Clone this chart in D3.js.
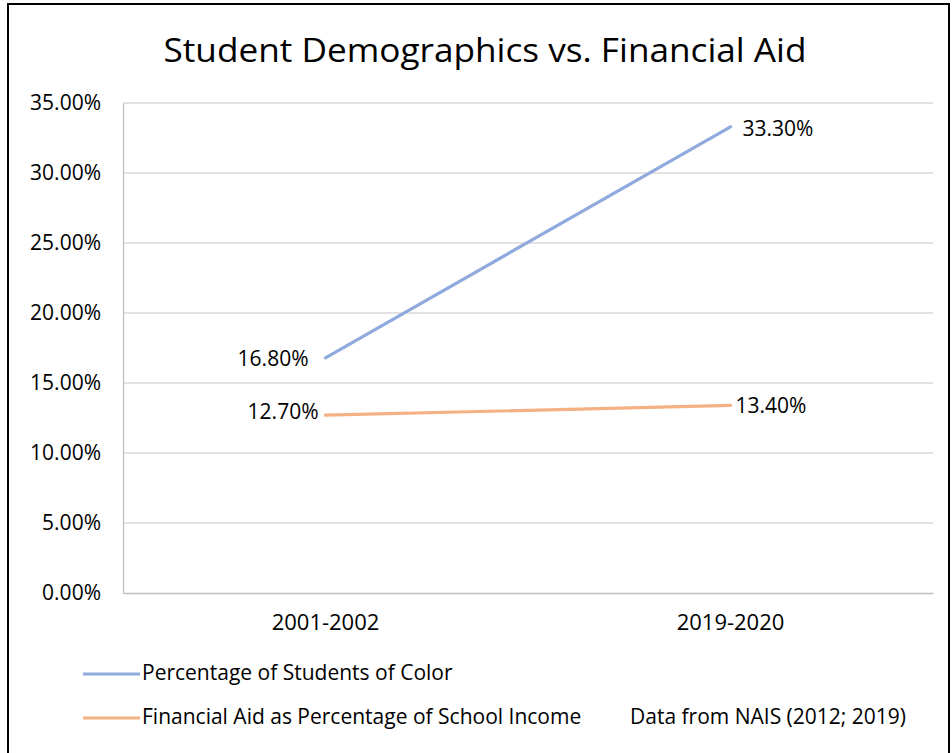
<!DOCTYPE html>
<html><head><meta charset="utf-8">
<script src="https://cdn.jsdelivr.net/npm/d3@7"></script>
<style>body{margin:0;background:#fff}svg{display:block}</style>
</head><body>
<script>
const categories = ["2001-2002", "2019-2020"];
const seriesNames = ["Percentage of Students of Color", "Financial Aid as Percentage of School Income"];
const studentsOfColor = [16.8, 33.3];
const financialAid = [12.7, 13.4];
const yTicks = [0, 5, 10, 15, 20, 25, 30, 35];
const titleText = "Student Demographics vs. Financial Aid";
const sourceText = "Data from NAIS (2012; 2019)";
const colors = ["#8FAADC", "#F4B183"];

(function () {
const W = 952, H = 753;
const svg = d3.select("body").append("svg").attr("width", W).attr("height", H);
const font = "'Open Sans', 'Noto Sans', sans-serif";

// outer border
svg.append("rect").attr("x", 8).attr("y", 4).attr("width", 941).attr("height", 760)
  .attr("fill", "#fff").attr("stroke", "#000").attr("stroke-width", 2);

const pL = 123, pR = 933, pT = 103, pB = 593;
const x = d3.scaleBand().domain(categories).range([pL, pR]);
const y = d3.scaleLinear().domain([0, 35]).range([pB, pT]);

// gridlines
svg.append("g").selectAll("line").data(yTicks.filter(d => d > 0)).join("line")
  .attr("x1", pL).attr("x2", pR).attr("y1", d => y(d)).attr("y2", d => y(d))
  .attr("stroke", "#d9d9d9").attr("stroke-width", 1.3);

// y axis
const yAxis = svg.append("g").attr("transform", `translate(${pL},0)`)
  .call(d3.axisLeft(y).tickValues(yTicks).tickSize(0).tickPadding(22).tickFormat(d => d.toFixed(2) + "%"));
yAxis.select(".domain").attr("stroke", "#bfbfbf").attr("stroke-width", 1.3);
yAxis.selectAll("text").attr("font-family", font).attr("font-size", 21).attr("fill", "#000");

// x axis
const xAxis = svg.append("g").attr("transform", `translate(0,${pB})`)
  .call(d3.axisBottom(x).tickSize(0).tickPadding(21));
xAxis.select(".domain").attr("stroke", "#bfbfbf").attr("stroke-width", 1.3);
xAxis.selectAll("text").attr("font-family", font).attr("font-size", 22).attr("fill", "#000");

const series = [studentsOfColor, financialAid];
const line = d3.line().x((d, i) => x(categories[i]) + x.bandwidth() / 2).y(d => y(d));
series.forEach((s, k) => {
  svg.append("path").datum(s).attr("d", line).attr("fill", "none")
    .attr("stroke", colors[k]).attr("stroke-width", 3.2).attr("stroke-linecap", "round");
});

// data labels
function label(k, i, dx, dy, anchor) {
  const v = series[k][i];
  svg.append("text").attr("x", x(categories[i]) + x.bandwidth() / 2 + dx).attr("y", y(v) + dy)
    .attr("text-anchor", anchor).attr("dominant-baseline", "middle")
    .attr("font-family", font).attr("font-size", 21).attr("fill", "#000")
    .text(v.toFixed(2) + "%");
}
label(0, 0, -17, 3, "end");
label(0, 1, 12, 4, "start");
label(1, 0, -7, -2, "end");
label(1, 1, 5, 2, "start");

// title
svg.append("text").attr("x", 485).attr("y", 62).attr("text-anchor", "middle")
  .attr("font-family", font).attr("font-size", 32).attr("fill", "#000")
  .attr("textLength", 643).attr("lengthAdjust", "spacingAndGlyphs").text(titleText);

// legend
const legY = [674, 718];
seriesNames.forEach((n, k) => {
  svg.append("line").attr("x1", 83).attr("x2", 140).attr("y1", legY[k]).attr("y2", legY[k])
    .attr("stroke", colors[k]).attr("stroke-width", 3.2);
  svg.append("text").attr("x", 142).attr("y", legY[k]).attr("dominant-baseline", "middle")
    .attr("font-family", font).attr("font-size", 21).attr("fill", "#000").text(n);
});
svg.append("text").attr("x", 630).attr("y", 718).attr("dominant-baseline", "middle")
  .attr("font-family", font).attr("font-size", 21).attr("fill", "#000").text(sourceText);
})();
</script>
</body></html>
